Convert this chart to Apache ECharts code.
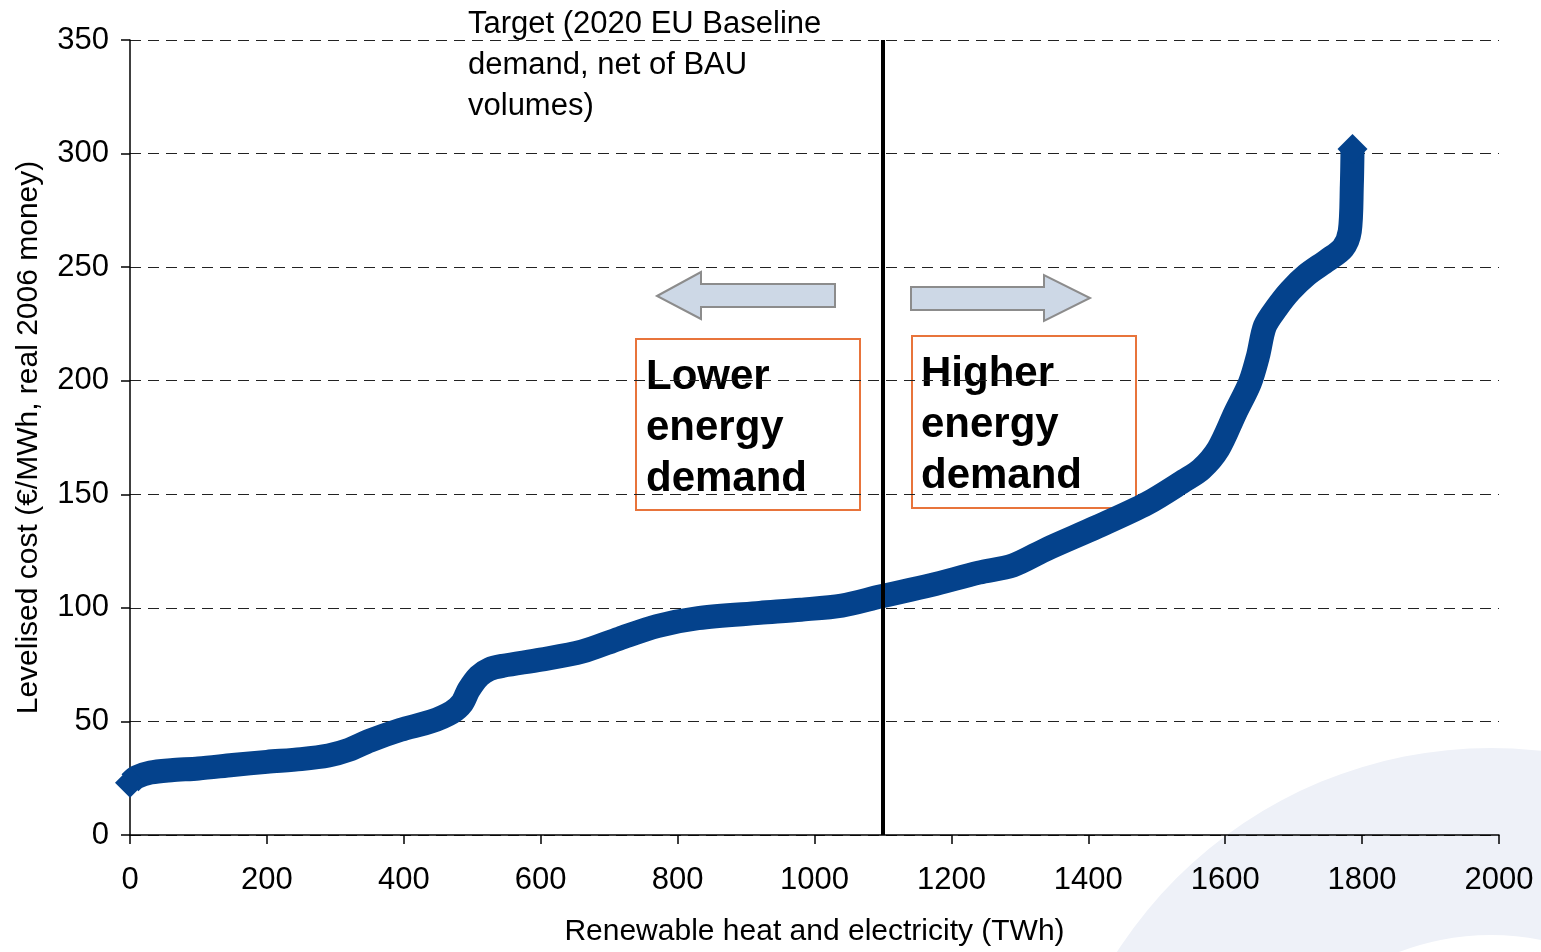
<!DOCTYPE html>
<html>
<head>
<meta charset="utf-8">
<script src="https://cdn.jsdelivr.net/npm/echarts@6/dist/echarts.min.js"></script>
<style>
  html, body { margin: 0; padding: 0; background: #fff; overflow: hidden; }
  #chart { width: 1541px; height: 952px; }
</style>
</head>
<body>
<div id="chart"></div>
<script>
// supply curve: cumulative TWh vs levelised cost
const energyTWh = [
  0, 10, 30, 60, 100, 150, 200, 250, 290, 320, 350, 395, 440, 470, 485, 495,
  510, 525, 545, 600, 660, 715, 770, 830, 920, 980, 1040, 1096, 1170, 1240,
  1290, 1340, 1413, 1486, 1540, 1565, 1590, 1615, 1636, 1648, 1658, 1675,
  1695, 1719, 1749, 1772, 1782, 1785, 1786
];
const costEUR = [
  23, 25.5, 27.5, 28.5, 29.3, 30.8, 32.2, 33.4, 35, 37.5, 41.5, 46.3, 50, 54,
  58, 64, 70, 73, 74.5, 77.2, 80.7, 86.5, 92, 95.5, 97.8, 99.2, 101, 105, 110,
  115.5, 118.7, 126, 135.7, 146, 156, 161, 170, 186, 199, 211, 224, 232,
  239.6, 246.6, 253, 258.4, 265.8, 286, 302
];
const targetTWh = 1100;

const font = "'Liberation Sans', Arial, sans-serif";
const curveColor = '#04428C';

const points = energyTWh.map((x, i) => [x, costEUR[i]]);

const myChart = echarts.init(document.getElementById('chart'));

const option = {
  animation: false,
  backgroundColor: '#fff',
  textStyle: { fontFamily: font, color: '#000' },
  grid: { left: 130, right: 42, top: 40, bottom: 96, containLabel: false },
  xAxis: {
    type: 'value',
    min: 0,
    max: 2000,
    interval: 200,
    name: 'Renewable heat and electricity (TWh)',
    nameLocation: 'middle',
    nameGap: 82,
    nameTextStyle: { fontSize: 30, color: '#000', fontFamily: font },
    axisLine: { show: true, lineStyle: { color: '#000', width: 1.5 } },
    axisTick: { show: true, length: 9, lineStyle: { color: '#000', width: 1.5 } },
    axisLabel: {
      fontSize: 31,
      color: '#000',
      margin: 30,
      fontFamily: font,
      formatter: (v) => String(v),
    },
    splitLine: { show: false },
  },
  yAxis: {
    type: 'value',
    min: 0,
    max: 350,
    interval: 50,
    name: 'Levelised cost (€/MWh, real 2006 money)',
    nameLocation: 'middle',
    nameGap: 86,
    nameTextStyle: { fontSize: 30, color: '#000', fontFamily: font },
    axisLine: { show: true, lineStyle: { color: '#000', width: 1.5 } },
    axisTick: { show: true, length: 9, lineStyle: { color: '#000', width: 1.5 } },
    axisLabel: {
      fontSize: 31,
      color: '#000',
      margin: 21,
      fontFamily: font,
      formatter: (v) => String(v),
    },
    splitLine: {
      show: true,
      lineStyle: { color: '#222', width: 1, type: [11, 7] },
    },
  },
  graphic: [
    {
      type: 'ring',
      z: -10,
      silent: true,
      shape: { cx: 1491, cy: 1193, r: 445, r0: 258 },
      style: { fill: '#EEF1F8' },
    },
    {
      type: 'text',
      left: 468,
      top: 4,
      style: {
        text: 'Target (2020 EU Baseline\ndemand, net of BAU\nvolumes)',
        font: '31px ' + font,
        lineHeight: 41,
        fill: '#000',
      },
    },
    {
      type: 'polygon',
      shape: {
        points: [[657, 296], [701, 272], [701, 284], [835, 284], [835, 307], [701, 307], [701, 319]],
      },
      style: { fill: '#CDD8E6', stroke: '#8C8C8C', lineWidth: 2 },
    },
    {
      type: 'polygon',
      shape: {
        points: [[911, 287], [1044, 287], [1044, 275], [1090, 298], [1044, 321], [1044, 310], [911, 310]],
      },
      style: { fill: '#CDD8E6', stroke: '#8C8C8C', lineWidth: 2 },
    },
    {
      type: 'rect',
      shape: { x: 636, y: 339, width: 224, height: 171 },
      style: { fill: '#fff', stroke: '#E8743B', lineWidth: 2 },
    },
    {
      type: 'rect',
      shape: { x: 912, y: 336, width: 224, height: 172 },
      style: { fill: '#fff', stroke: '#E8743B', lineWidth: 2 },
    },
    {
      type: 'text',
      left: 646,
      top: 352,
      style: {
        text: 'Lower\nenergy\ndemand',
        font: 'bold 42px ' + font,
        lineHeight: 51,
        fill: '#000',
      },
    },
    {
      type: 'text',
      left: 921,
      top: 349,
      style: {
        text: 'Higher\nenergy\ndemand',
        font: 'bold 42px ' + font,
        lineHeight: 51,
        fill: '#000',
      },
    },
  ],
  series: [
    {
      type: 'line',
      data: points,
      clip: false,
      smooth: 0.3,
      showSymbol: true,
      symbol: 'diamond',
      symbolSize: (val, params) =>
        params.dataIndex === 0 || params.dataIndex === points.length - 1 ? 30 : 0,
      itemStyle: { color: curveColor },
      lineStyle: { color: curveColor, width: 24, join: 'round' },
      z: 3,
      markLine: {
        silent: true,
        symbol: 'none',
        label: { show: false },
        lineStyle: { color: '#000', width: 4, type: 'solid' },
        data: [{ xAxis: targetTWh }],
        z: 4,
      },
    },
  ],
};

myChart.setOption(option);
</script>
</body>
</html>
